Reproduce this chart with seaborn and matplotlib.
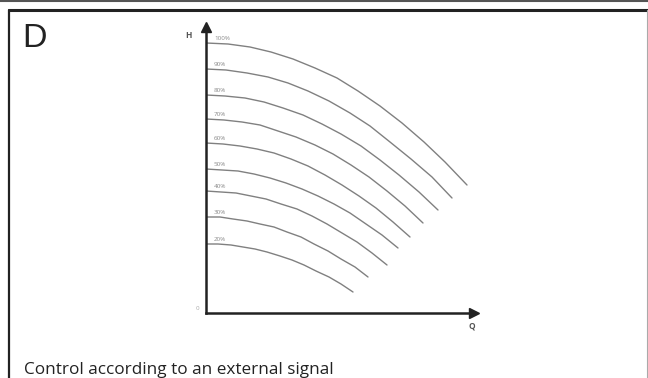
import pandas as pd
import seaborn as sns
import matplotlib
matplotlib.use("Agg")
import matplotlib.pyplot as plt
from matplotlib.lines import Line2D

# speed settings and read-off curve points (Q, H) in chart units
speeds = ["100%", "90%", "80%", "70%", "60%", "50%", "40%", "30%", "20%"]
q_100 = [0, 22, 44, 65, 87, 109, 131, 152, 174, 196, 218, 239, 261]
h_100 = [270, 269, 266, 261, 254, 245, 235, 222, 207, 190, 171, 151, 128]
q_90 = [0, 20, 41, 62, 82, 102, 123, 144, 164, 184, 205, 226, 246]
h_90 = [244, 243, 240, 236, 230, 222, 212, 200, 187, 171, 154, 136, 115]
q_80 = [0, 19, 39, 58, 77, 97, 116, 135, 155, 174, 193, 213, 232]
h_80 = [218, 217, 215, 211, 205, 198, 189, 179, 167, 153, 138, 121, 103]
q_70 = [0, 18, 36, 54, 72, 90, 109, 127, 145, 163, 181, 199, 217]
h_70 = [194, 193, 191, 188, 182, 176, 168, 159, 148, 136, 122, 107, 90]
q_60 = [0, 17, 34, 51, 68, 85, 102, 119, 136, 153, 170, 187, 204]
h_60 = [170, 169, 167, 164, 160, 154, 147, 138, 128, 117, 105, 91, 76]
q_50 = [0, 16, 32, 48, 64, 80, 96, 112, 128, 144, 160, 176, 192]
h_50 = [144, 143, 142, 139, 135, 130, 124, 117, 109, 100, 89, 78, 65]
q_40 = [0, 15, 30, 45, 60, 75, 91, 106, 121, 136, 151, 166, 181]
h_40 = [122, 121, 120, 117, 114, 109, 104, 97, 89, 80, 71, 60, 48]
q_30 = [0, 14, 27, 41, 54, 68, 81, 95, 108, 122, 135, 149, 162]
h_30 = [96, 96, 94, 92, 89, 86, 81, 76, 69, 62, 54, 46, 36]
q_20 = [0, 12, 25, 37, 49, 61, 74, 86, 98, 110, 123, 135, 147]
h_20 = [69, 69, 68, 66, 64, 61, 57, 53, 48, 42, 36, 29, 21]

qs = [q_100, q_90, q_80, q_70, q_60, q_50, q_40, q_30, q_20]
hs = [h_100, h_90, h_80, h_70, h_60, h_50, h_40, h_30, h_20]

rows = []
for s, q, h in zip(speeds, qs, hs):
    for a, b in zip(q, h):
        rows.append((s, a, b))
df = pd.DataFrame(rows, columns=["speed", "Q", "H"])

sns.set_theme(style="white")
plt.rcParams["font.family"] = ["Open Sans", "DejaVu Sans"]

W, H = 648, 378
fig = plt.figure(figsize=(W / 100, H / 100), dpi=100)


def fx(x):
    return x / W


def fy(y):
    return 1 - y / H


# panel frame
fig.add_artist(Line2D([0, 1], [fy(0.8), fy(0.8)], color="#555", lw=1.5))
fig.add_artist(Line2D([fx(8.5), 1], [fy(9.5), fy(9.5)], color="#222", lw=2.2))
fig.add_artist(Line2D([fx(8.5), fx(8.5)], [fy(9.5), 0], color="#222", lw=1.6))
fig.add_artist(Line2D([fx(647), fx(647)], [fy(9.5), 0], color="#aaa", lw=0.8))

fig.text(fx(22), fy(47), "D", fontsize=24.5, color="#222",
         family=["Liberation Sans", "DejaVu Sans"], va="baseline")
fig.text(fx(24), fy(374), "Control according to an external signal",
         fontsize=12.3, color="#222", va="baseline")

ax = fig.add_axes([fx(206), fy(313), fx(474) - fx(206), fy(27) - fy(313)])
sns.lineplot(data=df, x="Q", y="H", hue="speed", sort=False,
             palette={s: "#808080" for s in speeds}, linewidth=1.0,
             legend=False, ax=ax)
ax.set_xlim(0, 268)
ax.set_ylim(0, 286)
ax.set_xticks([])
ax.set_yticks([])
ax.set_xlabel("")
ax.set_ylabel("")
for side in ["top", "right"]:
    ax.spines[side].set_visible(False)
for side in ["left", "bottom"]:
    ax.spines[side].set_color("#222")
    ax.spines[side].set_linewidth(1.8)

ax.plot(0, 1, marker="^", ms=6.5, color="#222", transform=ax.transAxes, clip_on=False)
ax.plot(1, 0, marker=">", ms=6.5, color="#222", transform=ax.transAxes, clip_on=False)

for s, h in zip(speeds, hs):
    ax.text(8, h[0] + 2, s, fontsize=4.5, color="#8a8a8a", va="bottom", ha="left")

ax.text(-18, 278, "H", fontsize=6, color="#555", ha="center", va="center",
        clip_on=False, fontweight="bold")
ax.text(266, -13, "Q", fontsize=6, color="#555", ha="center", va="center",
        clip_on=False, fontweight="bold")
ax.text(-9, 4, "0", fontsize=4.5, color="#aaa", ha="center", va="center", clip_on=False)

fig.savefig("out.png", dpi=100)
